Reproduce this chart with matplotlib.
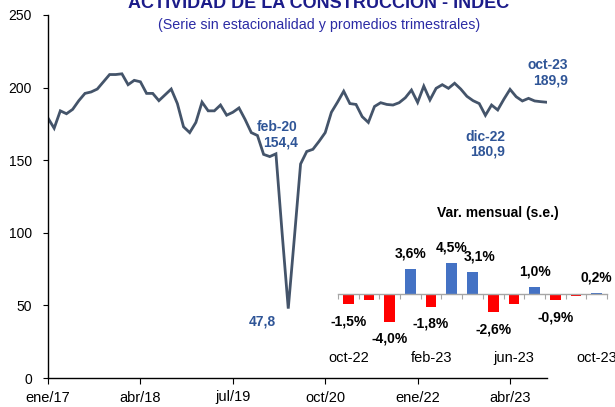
import matplotlib
matplotlib.use("Agg")
import matplotlib.pyplot as plt
import numpy as np

plt.rcParams['font.family'] = ['Liberation Sans', 'DejaVu Sans']

# ---- main series (index, monthly, ene-17 .. oct-23) ----
values = [179, 172, 184, 182, 185, 191, 196, 197, 199, 204, 209, 209, 209.5, 202, 205, 204,
          196, 196, 191, 195, 199, 189, 173, 169, 176, 190, 184, 184, 188, 181, 183, 186,
          178, 169, 167, 154, 152.5, 154.4, 100, 47.8, 97, 147.4, 156, 157.5, 163, 169,
          183, 190, 197.5, 189, 188.4, 180, 176, 187, 189.6, 188.4, 188, 189.6, 193, 198.3,
          189.8, 201, 191.5, 199.5, 202, 199.5, 203, 199, 194, 191, 189, 180.9, 188, 184.6,
          192, 198.8, 193.7, 190.8, 192.6, 190.8, 190.3, 189.9]
xtick_pos = [0, 15, 30, 45, 60, 75]
xtick_labels = ["ene/17", "abr/18", "jul/19", "oct/20", "ene/22", "abr/23"]
yticks = [0, 50, 100, 150, 200, 250]

# annotated points: (index, text)
annots = [(37, "feb-20\n154,4"), (39, "47,8"), (71, "dic-22\n180,9"), (81, "oct-23\n189,9")]

# ---- inset: monthly variation ----
inset_months = ["oct-22", "nov-22", "dic-22", "ene-23", "feb-23", "mar-23", "abr-23",
                "may-23", "jun-23", "jul-23", "ago-23", "sep-23", "oct-23"]
inset_vals = [-1.5, -0.9, -4.0, 3.6, -1.8, 4.5, 3.1, -2.6, -1.4, 1.0, -0.9, -0.3, 0.2]
inset_labeled = [True, False, True, True, True, True, True, True, False, True, True, False, True]
inset_tick_idx = [0, 4, 8, 12]

title = "ACTIVIDAD DE LA CONSTRUCCION - INDEC"
subtitle = "(Serie sin estacionalidad y promedios trimestrales)"
inset_title = "Var. mensual (s.e.)"

W, H = 615, 407
fig = plt.figure(figsize=(W / 100, H / 100), dpi=100)

def fx(px):
    return px / W

def fy(py):
    return 1 - py / H

# main axes
L, R, T, B = 48, 547, 15, 378
ax = fig.add_axes([fx(L), fy(B), fx(R - L), (B - T) / H])
x = np.arange(len(values))
ax.plot(x, values, color='#44546A', lw=2.0, solid_joinstyle='miter')
ax.set_xlim(0, len(values) - 1)
ax.set_ylim(0, 250)
ax.set_yticks(yticks)
ax.set_yticklabels([str(v) for v in yticks], fontsize=10)
ax.set_xticks(xtick_pos)
ax.set_xticklabels(xtick_labels, fontsize=10.5)
for s in ['top', 'right']:
    ax.spines[s].set_visible(False)
for s in ['left', 'bottom']:
    ax.spines[s].set_linewidth(1.0)
ax.tick_params(axis='y', direction='out', length=3.5, width=0.8, pad=8)
ax.tick_params(axis='x', direction='out', length=4, width=0.8, pad=5)

ann_color = '#2F5597'
offsets = {37: (22, 19, 'right'), 39: (-25.5, -12.5, 'center'),
           71: (20, -29, 'right'), 81: (21, 29.5, 'right')}
for idx, txt in annots:
    dx, dy, ha = offsets[idx]
    ax.annotate(txt, xy=(idx, values[idx]), xytext=(dx * 0.72, dy * 0.72),
                textcoords='offset points', ha=ha, va='center', fontsize=10,
                fontweight='bold', color=ann_color, linespacing=1.1,
                multialignment='right')

# titles
fig.text(fx(319), fy(8), title, ha='center', va='baseline', fontsize=13,
         fontweight='bold', color='#1C1C8A')
fig.text(fx(319), fy(24.5), subtitle, ha='center', va='center', fontsize=10.3,
         color='#2B2BA5')

# inset
IL, IR, IT, IB = 338, 607, 204, 370
base = 294
scale = 6.97
ymax = (base - IT) / scale
ymin = -(IB - base) / scale
ax2 = fig.add_axes([fx(IL), fy(IB), fx(IR - IL), (IB - IT) / H])
ax2.patch.set_alpha(0)
xi = np.arange(len(inset_vals))
colors = ['#4472C4' if v > 0 else '#FF0000' for v in inset_vals]
ax2.bar(xi, inset_vals, width=0.52, color=colors, edgecolor='none')
ax2.set_xlim(-0.5, len(inset_vals) - 0.5)
ax2.set_ylim(ymin, ymax)
for s in ['top', 'right', 'left']:
    ax2.spines[s].set_visible(False)
ax2.spines['bottom'].set_position(('data', 0))
ax2.spines['bottom'].set_color('#A6A6A6')
ax2.spines['bottom'].set_linewidth(1.0)
ax2.set_yticks([])
ax2.set_xticks(np.arange(-0.5, len(inset_vals), 1.0))
ax2.set_xticklabels([])
ax2.tick_params(axis='x', direction='out', length=3.5, width=0.8, color='#A6A6A6')

for i, (v, lab) in enumerate(zip(inset_vals, inset_labeled)):
    if not lab:
        continue
    s = f"{v:.1f}".replace('.', ',') + "%"
    dy = 15.5 if v > 0 else -17
    dx = 7 if i == 6 else 0
    ax2.annotate(s, xy=(i, v), xytext=(dx * 0.72, dy * 0.72), textcoords='offset points',
                 ha='center', va='center', fontsize=10, fontweight='bold', color='black')

lab_y = -(358 - base) / scale
for i in inset_tick_idx:
    ax2.text(i, lab_y, inset_months[i], ha='center', va='center', fontsize=10.5,
             color='black', clip_on=False)

fig.text(fx(497.5), fy(212.7), inset_title, ha='center', va='center', fontsize=10,
         fontweight='bold', color='black')

fig.savefig("out.png", dpi=100)
